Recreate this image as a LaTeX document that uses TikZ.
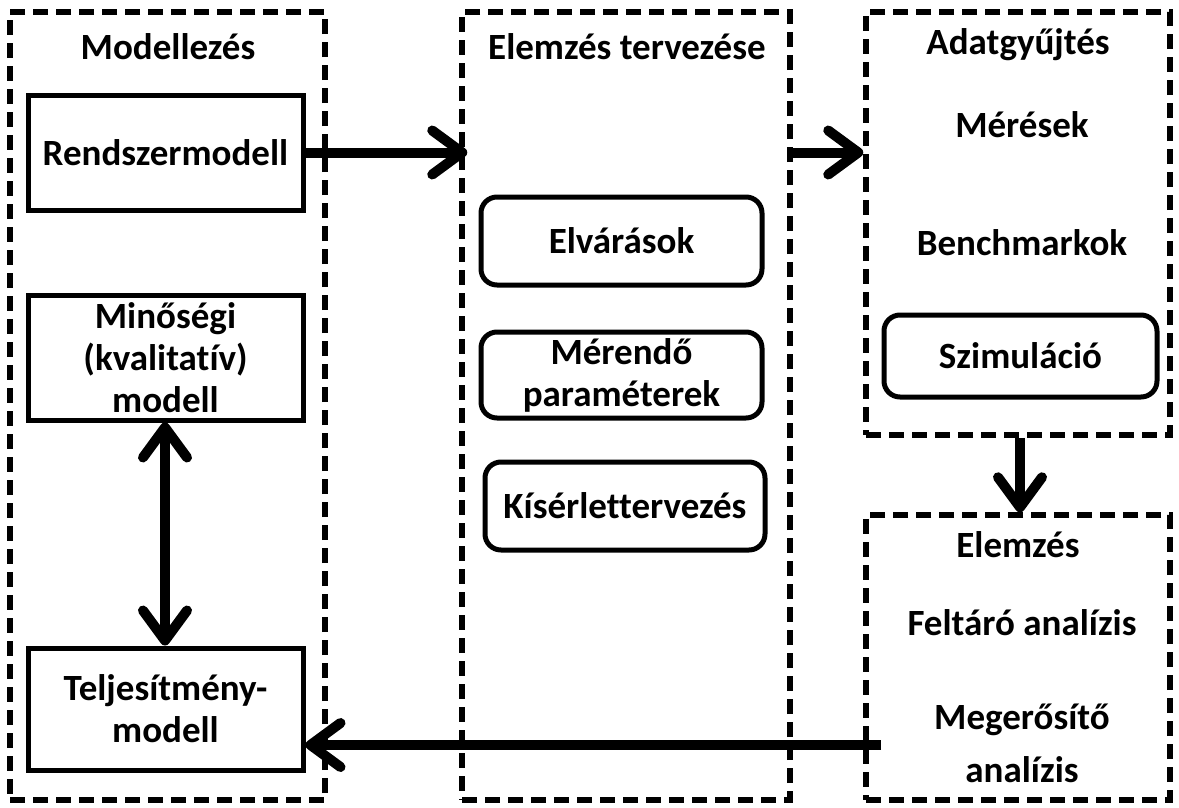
\documentclass[tikz,border=0pt]{standalone}
\usepackage{fontspec}
\setmainfont{Carlito}[Ligatures=NoCommon]
\usetikzlibrary{arrows.meta,calc}

\tikzset{
  every node/.style={font=\bfseries\fontsize{37}{42}\selectfont, align=center, inner sep=0pt},
  group/.style={draw, line width=5.5pt, dash pattern=on 15pt off 8pt, minimum width=#1},
  group/.default=304pt,
  box/.style={draw, line width=5pt, minimum width=275pt},
  rbox/.style={draw, line width=5pt, rounded corners=16pt},
  txt/.style={text=black},
  flow/.style={line width=10pt, -{Straight Barb[length=30pt,width=44pt,line cap=round,line join=round]}},
  flowboth/.style={line width=10pt, {Straight Barb[length=30pt,width=44pt,line cap=round,line join=round]}-{Straight Barb[length=30pt,width=44pt,line cap=round,line join=round]}}
}

\begin{document}
\begin{tikzpicture}[x=1pt,y=-1pt]
\useasboundingbox (0,0) rectangle (1179,807);

% group frames
\node[group=315pt, minimum height=788pt] (modg) at (167.5,406) {};
\node[group=328pt, minimum height=788pt] (terg) at (626,406) {};
\node[group, minimum height=423pt] (adag) at (1018,223.5) {};
\node[group, minimum height=285pt] (elemg) at (1018,657.5) {};

% group titles
\node[txt] (t1) at (168,47) {Modellezés};
\node[txt] (t2) at (627,47) {Elemzés tervezése};
\node[txt] (t3) at (1018,45) {Adatgyűjtés};
\node[txt] (t4) at (1018,545) {Elemzés};

% modelling
\node[box, minimum height=115pt] (rm) at (165.5,152.5) {Rendszermodell};
\node[box, minimum height=125pt] (mm) at (165.5,357.5) {Minőségi\\(kvalitatív)\\modell};
\node[box, minimum height=122pt] (tm) at (165.5,709) {Teljesítmény-\\modell};

% analysis design
\node[rbox, minimum width=281pt, minimum height=88pt] (elv) at (621.5,241) {Elvárások};
\node[rbox, minimum width=281pt, minimum height=86pt] (mer) at (621.5,375) {Mérendő\\paraméterek};
\node[rbox, minimum width=280pt, minimum height=88pt] (kis) at (625,506) {Kísérlettervezés};

% data collection
\node[txt] (mes) at (1022,125) {Mérések};
\node[txt] (ben) at (1022,243) {Benchmarkok};
\node[rbox, minimum width=273pt, minimum height=82pt] (szim) at (1020.5,356) {Szimuláció};

% analysis
\node[txt] (fel) at (1022,623) {Feltáró analízis};
\node[txt] (meg1) at (1022,720) {Megerősítő};
\node[txt] (meg2) at (1022,770) {analízis};

% connectors
\draw[flow] (rm.east) -- ([xshift=8pt]terg.west |- rm.east);
\draw[flow] (terg.east |- rm.east) -- (adag.west |- rm.east);
\draw[flow] (adag.south -| 1020,0) -- (elemg.north -| 1020,0);
\draw[flowboth] (mm.south -| 165,0) -- (tm.north -| 165,0);
\coordinate (fb) at (881,745);
\draw[flow] (fb) -- (tm.east |- fb);
\end{tikzpicture}
\end{document}
